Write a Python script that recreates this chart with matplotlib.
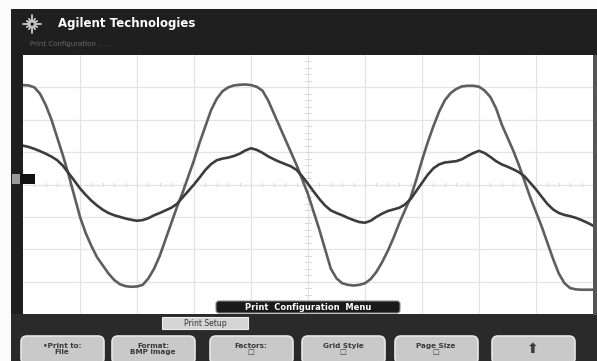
import math
import matplotlib
matplotlib.use('Agg')
import matplotlib.pyplot as plt
import matplotlib.patches as patches

# time axis in divisions (10 div across, 8 div high)
t = [round(i * 0.1, 1) for i in range(101)]

# larger, flattened trace (div)
ch_big = [3.07, 3.06, 3.0, 2.8, 2.45, 2.0, 1.45, 0.9, 0.3, -0.35,
          -1.0, -1.5, -1.9, -2.25, -2.5, -2.75, -2.95, -3.08, -3.14, -3.16,
          -3.15, -3.1, -2.9, -2.6, -2.2, -1.7, -1.2, -0.7, -0.25, 0.25,
          0.75, 1.3, 1.8, 2.3, 2.65, 2.88, 3.0, 3.06, 3.08, 3.09,
          3.07, 3.02, 2.9, 2.6, 2.2, 1.8, 1.4, 1.0, 0.6, 0.15,
          -0.3, -0.85, -1.4, -2.0, -2.6, -2.9, -3.05, -3.1, -3.12, -3.1,
          -3.05, -2.92, -2.7, -2.4, -2.05, -1.65, -1.2, -0.8, -0.4, 0.15,
          0.75, 1.3, 1.8, 2.25, 2.6, 2.82, 2.95, 3.03, 3.05, 3.05,
          3.02, 2.9, 2.7, 2.35, 1.85, 1.45, 1.05, 0.6, 0.1, -0.4,
          -0.85, -1.3, -1.8, -2.3, -2.75, -3.05, -3.2, -3.24, -3.25, -3.25,
          -3.25]

# smaller trace with harmonic bumps (div)
ch_small = [1.2, 1.16, 1.1, 1.03, 0.95, 0.86, 0.75, 0.58, 0.35, 0.12,
            -0.12, -0.32, -0.5, -0.65, -0.78, -0.88, -0.95, -1.0, -1.05, -1.09,
            -1.12, -1.1, -1.04, -0.95, -0.88, -0.8, -0.72, -0.6, -0.4, -0.2,
            0.0, 0.22, 0.45, 0.63, 0.75, 0.8, 0.83, 0.88, 0.95, 1.05,
            1.12, 1.07, 0.98, 0.87, 0.78, 0.7, 0.63, 0.56, 0.45, 0.25,
            0.02, -0.22, -0.45, -0.65, -0.8, -0.88, -0.95, -1.03, -1.1, -1.16,
            -1.18, -1.12, -1.0, -0.9, -0.82, -0.77, -0.72, -0.62, -0.45, -0.2,
            0.05, 0.3, 0.5, 0.62, 0.68, 0.7, 0.72, 0.78, 0.88, 0.97,
            1.04, 0.97, 0.85, 0.72, 0.62, 0.55, 0.47, 0.38, 0.25, 0.05,
            -0.15, -0.38, -0.6, -0.77, -0.88, -0.94, -0.98, -1.03, -1.1, -1.18,
            -1.27]

softkeys = ["\u2022Print to:\nFile", "Format:\nBMP image", "Factors:\n\u25a1",
            "Grid Style\n\u25a1", "Page Size\n\u25a1", "\u2b06"]

W, H = 597, 361
fig = plt.figure(figsize=(W / 100, H / 100), dpi=100)
fig.patch.set_facecolor('#fbfbfb')

# background layer in pixel coordinates
bg = fig.add_axes([0, 0, 1, 1])
bg.set_xlim(0, W)
bg.set_ylim(H, 0)
bg.axis('off')
bg.set_zorder(0)

dark = '#1f1f1f'
bg.add_patch(patches.Rectangle((11, 9), W - 11, 46, facecolor=dark, edgecolor='none'))
bg.add_patch(patches.Rectangle((11, 9), 12, H - 9, facecolor=dark, edgecolor='none'))
bg.add_patch(patches.Rectangle((11, 314), W - 11, H - 314, facecolor='#2a2a2a', edgecolor='none'))
bg.add_patch(patches.Rectangle((593, 55), 4, 260, facecolor='#555555', edgecolor='none'))

# logo + brand
for ang in range(0, 360, 30):
    r0, r1 = 2.5, 9 if ang % 90 == 0 else 6
    a = math.radians(ang)
    bg.plot([32 + r0 * math.cos(a), 32 + r1 * math.cos(a)],
            [24 + r0 * math.sin(a), 24 + r1 * math.sin(a)],
            color='#dddddd', lw=1.2, solid_capstyle='round')
bg.text(58, 24, "Agilent Technologies", color='white', fontsize=8.5,
        fontweight='bold', va='center', ha='left')
bg.text(30, 44, "Print Configuration  . . .", color='#6a6a6a', fontsize=5,
        va='center', ha='left')

# tab label under plot
bg.add_patch(patches.Rectangle((162, 317), 86, 12, facecolor='#d4d4d4', edgecolor='#eeeeee', lw=0.8))
bg.text(205, 323, "Print Setup", fontsize=5.5, color='#333333', ha='center', va='center')

# softkeys
key_x = [19, 110, 208, 300, 393, 490]
for kx, lab in zip(key_x, softkeys):
    bg.add_patch(patches.FancyBboxPatch((kx + 2, 336), 83, 28,
                 boxstyle="round,pad=0,rounding_size=6",
                 facecolor='#c9c9c9', edgecolor='#e6e6e6', lw=1.2))
    fs = 10 if lab == "\u2b06" else 5.2
    bg.text(kx + 43, 349, lab, fontsize=fs, color='#3a3a3a', ha='center',
            va='center', linespacing=1.1, fontweight='bold')

# scope graticule area
ax = fig.add_axes([23 / W, (H - 314) / H, 570 / W, 259 / H])
ax.set_zorder(1)
ax.set_xlim(0, 10)
ax.set_ylim(-4, 4)
ax.set_facecolor('white')
for s in ax.spines.values():
    s.set_visible(False)
ax.set_xticks([])
ax.set_yticks([])
for gx in range(1, 10):
    ax.axvline(gx, color='#e4e4e4', lw=0.9, zorder=0)
for gy in range(-3, 4):
    ax.axhline(gy, color='#e4e4e4', lw=0.9, zorder=0)
for k in range(1, 50):
    ax.plot([k * 0.2, k * 0.2], [-0.06, 0.06], color='#d8d8d8', lw=0.7, zorder=0)
for k in range(-19, 20):
    ax.plot([4.95, 5.05], [k * 0.2, k * 0.2], color='#d8d8d8', lw=0.7, zorder=0)

ax.plot(t, ch_big, color='#5e5e5e', lw=1.9, solid_joinstyle='round', zorder=3)
ax.plot(t, ch_small, color='#3c3c3c', lw=1.9, solid_joinstyle='round', zorder=4)

# overlay: menu label and ground marker above the graticule
top = fig.add_axes([0, 0, 1, 1])
top.set_xlim(0, W)
top.set_ylim(H, 0)
top.axis('off')
top.set_zorder(2)
top.add_patch(patches.FancyBboxPatch((216, 301), 184, 12,
              boxstyle="round,pad=0,rounding_size=3",
              facecolor='#1a1a1a', edgecolor='#888888', lw=0.8))
top.text(308, 307.5, "Print  Configuration  Menu", color='white', fontsize=6,
         fontweight='bold', ha='center', va='center')
top.add_patch(patches.Rectangle((12, 174), 23, 10, facecolor='#111111', edgecolor='none'))
top.add_patch(patches.Rectangle((12, 174), 8, 10, facecolor='#9a9a9a', edgecolor='none'))

fig.savefig('out.png', dpi=100)
